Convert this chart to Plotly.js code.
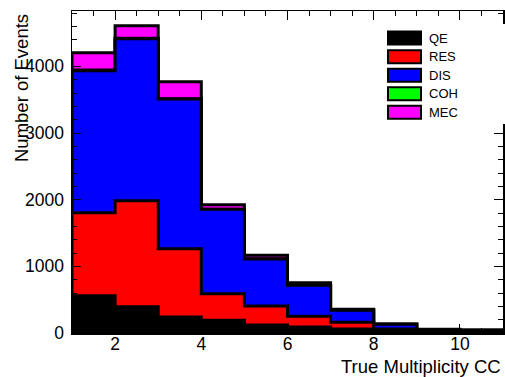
<!DOCTYPE html>
<html>
<head>
<meta charset="utf-8">
<script src="https://cdn.plot.ly/plotly-3.0.1.min.js"></script>
<style>html,body{margin:0;padding:0;background:#fff;}#chart{width:505px;height:377px;}</style>
</head>
<body>
<div id="chart"></div>
<script>
// Bin edges of "True Multiplicity CC" (bins of width 1 from 1 to 11)
const binEdges = [1, 2, 3, 4, 5, 6, 7, 8, 9, 10, 11];
// Events per bin for each interaction channel
const qe  = [560, 395, 240, 190, 120, 90, 60, 30, 12, 8];
const res = [1245, 1590, 1025, 400, 285, 160, 100, 30, 10, 7];
const dis = [2130, 2430, 2245, 1265, 705, 465, 180, 70, 28, 27];
const coh = [10, 8, 5, 3, 2, 1, 1, 0, 0, 0];
const mec = [260, 187, 255, 67, 55, 39, 14, 5, 5, 3];
const channelNames = ["QE", "RES", "DIS", "COH", "MEC"];
const channelColors = ["#000000", "#ff0000", "#0000ff", "#00ff00", "#ff00ff"];
const yTickVals = [0, 1000, 2000, 3000, 4000];
const xTickVals = [2, 4, 6, 8, 10];

const series = [qe, res, dis, coh, mec];
// cumulative stacks
const cum = [];
let run = new Array(qe.length).fill(0);
for (const s of series) {
  run = run.map((v, i) => v + s[i]);
  cum.push(run.slice());
}

const traces = [];
// draw from top of stack down so lower fills sit over upper ones (ROOT THStack style)
for (let k = series.length - 1; k >= 0; k--) {
  const c = cum[k];
  const xs = [binEdges[0]].concat(binEdges).concat([binEdges[binEdges.length - 1]]);
  const ys = [0].concat(c).concat([c[c.length - 1], 0]);
  traces.push({
    type: "scatter",
    mode: "lines",
    x: xs,
    y: ys,
    name: channelNames[k],
    line: {shape: "hv", color: "#000000", width: 3},
    fill: "tozeroy",
    fillcolor: channelColors[k],
    showlegend: false,
    hoverinfo: "skip"
  });
}

// custom ROOT-like legend
const shapes = [{
  type: "rect", xref: "paper", yref: "paper",
  x0: (378 - 72) / 431, x1: 1.01, y0: (333 - 124) / 322, y1: (333 - 24) / 322,
  fillcolor: "#ffffff", line: {width: 0}, layer: "above"
}];
const annotations = [];
const rowCenters = [38, 56.7, 75.2, 93.8, 112.2];
channelNames.forEach((nm, i) => {
  const yc = rowCenters[i];
  shapes.push({
    type: "rect", xref: "paper", yref: "paper",
    x0: (388 - 72) / 431, x1: (421 - 72) / 431,
    y0: (333 - (yc + 6.5)) / 322, y1: (333 - (yc - 6.5)) / 322,
    fillcolor: channelColors[i], line: {color: "#000000", width: 2}, layer: "above"
  });
  annotations.push({
    xref: "paper", yref: "paper",
    x: (427 - 72) / 431, y: (333 - yc) / 322,
    xanchor: "left", yanchor: "middle", showarrow: false,
    text: nm, font: {family: "Liberation Sans, Arial, sans-serif", size: 13, color: "#000"}
  });
});
// axis titles (ROOT style alignment)
annotations.push({
  xref: "paper", yref: "paper", x: 1.0, y: (333 - 366) / 322,
  xanchor: "right", yanchor: "middle", showarrow: false,
  text: "True Multiplicity CC",
  font: {family: "Liberation Sans, Arial, sans-serif", size: 18.5, color: "#000"}
});
annotations.push({
  xref: "paper", yref: "paper", x: (22 - 72) / 431, y: (333 - 12) / 322,
  xanchor: "center", yanchor: "top", showarrow: false, textangle: -90,
  text: "Number of Events",
  font: {family: "Liberation Sans, Arial, sans-serif", size: 18.5, color: "#000"}
});

const layout = {
  width: 505, height: 377,
  margin: {l: 72, r: 2, t: 11, b: 44, pad: 0},
  paper_bgcolor: "#ffffff", plot_bgcolor: "#ffffff",
  showlegend: false,
  font: {family: "Liberation Sans, Arial, sans-serif", size: 17.5, color: "#000"},
  xaxis: {
    range: [1, 11], tickvals: xTickVals, ticktext: xTickVals.map(String),
    ticks: "inside", ticklen: 9, tickwidth: 1, tickcolor: "#000",
    minor: {dtick: 0.5, tick0: 0, ticks: "inside", ticklen: 5, tickwidth: 1, tickcolor: "#000"},
    showline: true, linecolor: "#000", linewidth: 1.5, mirror: "ticks",
    showgrid: false, zeroline: false, ticklabelstandoff: -6,
    tickfont: {size: 17.5}
  },
  yaxis: {
    range: [0, 4830], tickvals: yTickVals, ticktext: yTickVals.map(String),
    ticks: "inside", ticklen: 9, tickwidth: 1, tickcolor: "#000",
    minor: {dtick: 200, tick0: 0, ticks: "inside", ticklen: 5, tickwidth: 1, tickcolor: "#000"},
    showline: true, linecolor: "#000", linewidth: 1.5, mirror: "ticks",
    showgrid: false, zeroline: false, ticklabelstandoff: 3,
    tickfont: {size: 17.5}
  },
  shapes: shapes,
  annotations: annotations
};

Plotly.newPlot("chart", traces, layout, {displayModeBar: false, staticPlot: true});
</script>
</body>
</html>
